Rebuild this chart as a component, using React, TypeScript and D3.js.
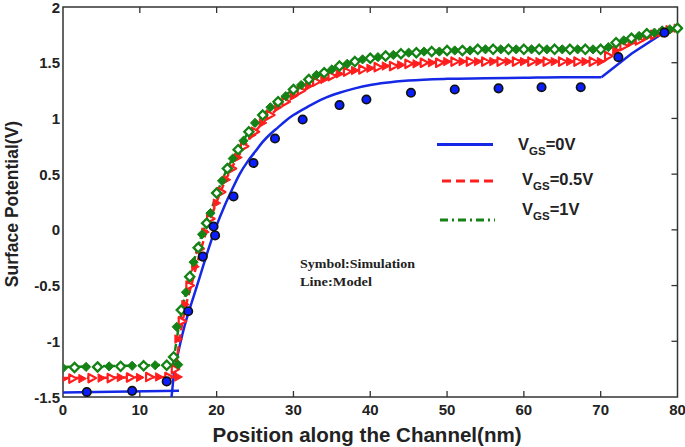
import React from "react";
import * as d3 from "d3";

const W = 685;
const H = 447;

const xTicks = [0, 10, 20, 30, 40, 50, 60, 70, 80];
const yTicks = [-1.5, -1, -0.5, 0, 0.5, 1, 1.5, 2];
const yTickLabels = ["-1.5", "-1", "-0.5", "0", "0.5", "1", "1.5", "2"];

// Simulation (symbols)
const blueSimX = [3.1, 9.0, 13.5, 16.3, 18.2, 19.6, 19.8, 22.2, 24.8, 27.6, 31.2, 36.0, 39.5, 45.3, 51.0, 56.7, 62.3, 67.4, 72.3, 78.3];
const blueSimY = [-1.455, -1.445, -1.36, -0.73, -0.24, 0.03, -0.05, 0.30, 0.60, 0.82, 0.99, 1.12, 1.17, 1.23, 1.26, 1.27, 1.28, 1.28, 1.55, 1.77];

const redSimX = [0, 1.25, 2.5, 3.75, 5, 6.25, 7.5, 8.75, 10, 11.25, 12.5, 13.75, 15,
  14.6, 15.0, 15.5, 15.9, 16.5, 17.2, 17.8, 18.5, 19.2, 20.0, 20.6, 21.3, 22.0, 22.8, 23.6, 24.6,
  25, 26, 27, 28, 29, 30, 31, 32, 33, 34, 35, 36, 37, 38, 39, 40, 41, 42, 43, 44, 45, 46, 47, 48, 49,
  50, 51, 52, 53, 54, 55, 56, 57, 58, 59, 60, 61, 62, 63, 64, 65, 66, 67, 68, 69, 70,
  71, 72, 73, 74, 75, 76, 77, 78, 79, 80];
const redSimY = [-1.34, -1.335, -1.335, -1.33, -1.33, -1.33, -1.325, -1.325, -1.325, -1.32, -1.32, -1.32, -1.32,
  -1.25, -0.98, -0.82, -0.67, -0.5, -0.33, -0.17, -0.02, 0.1, 0.24, 0.34, 0.45, 0.55, 0.65, 0.75, 0.85,
  0.88, 0.96, 1.03, 1.10, 1.15, 1.20, 1.25, 1.29, 1.33, 1.35, 1.38, 1.40, 1.42, 1.43, 1.44, 1.45, 1.46, 1.47, 1.47, 1.48, 1.49, 1.49, 1.50, 1.50, 1.50,
  1.51, 1.51, 1.51, 1.51, 1.51, 1.51, 1.51, 1.51, 1.51, 1.51, 1.51, 1.51, 1.51, 1.51, 1.51, 1.51, 1.51, 1.51, 1.51, 1.51, 1.51,
  1.56, 1.61, 1.65, 1.68, 1.70, 1.73, 1.75, 1.77, 1.79, 1.81];

const greenSimX = [0, 1.5, 3, 4.5, 6, 7.5, 9, 10.5, 12, 13.5, 15,
  14.4, 14.8, 15.4, 16.0, 16.5, 17.0, 17.6, 18.1, 18.7, 19.2, 20.0, 20.7, 21.4, 22.1, 22.8, 23.5, 24.2,
  25, 26, 27, 28, 29, 30, 31, 32, 33, 34, 35, 36, 37, 38, 39, 40, 41, 42, 43, 44, 45, 46, 47, 48, 49,
  50, 51, 52, 53, 54, 55, 56, 57, 58, 59, 60, 61, 62, 63, 64, 65, 66, 67, 68, 69, 70,
  71, 72, 73, 74, 75, 76, 77, 78, 79, 80];
const greenSimY = [-1.24, -1.235, -1.23, -1.23, -1.225, -1.225, -1.22, -1.22, -1.215, -1.215, -1.21,
  -1.14, -0.87, -0.72, -0.56, -0.42, -0.29, -0.16, -0.04, 0.06, 0.15, 0.33, 0.44, 0.55, 0.64, 0.72, 0.80, 0.88,
  0.96, 1.03, 1.10, 1.15, 1.20, 1.26, 1.30, 1.35, 1.39, 1.41, 1.44, 1.47, 1.49, 1.51, 1.53, 1.54, 1.55, 1.56, 1.57, 1.58, 1.59, 1.59, 1.60, 1.60, 1.60,
  1.61, 1.61, 1.61, 1.61, 1.62, 1.62, 1.62, 1.62, 1.62, 1.62, 1.62, 1.62, 1.62, 1.62, 1.62, 1.62, 1.62, 1.62, 1.62, 1.62, 1.62,
  1.64, 1.68, 1.70, 1.72, 1.74, 1.76, 1.77, 1.78, 1.80, 1.81];

// Model (lines)
const blueFlatX = [0, 15.1];
const blueFlatY = [-1.46, -1.445];
const blueModelX = [14.1, 14.5, 15, 15.5, 16.3, 17, 18, 19, 20, 21, 22, 23, 24, 25, 26, 27, 28, 29, 30, 32, 34, 36, 38, 40, 42, 45, 50, 55, 60, 65, 70.1, 74, 78.2, 80];
const blueModelY = [-1.52, -1.25, -1.1, -0.95, -0.75, -0.6, -0.38, -0.16, 0.04, 0.21, 0.36, 0.5, 0.61, 0.70, 0.79, 0.86, 0.92, 0.98, 1.03, 1.11, 1.18, 1.23, 1.27, 1.30, 1.32, 1.34, 1.355, 1.36, 1.365, 1.37, 1.37, 1.58, 1.77, 1.82];

const redModelX = [0, 15.2, 14.5, 15.5, 17, 18.5, 20, 21, 22, 23, 24, 25, 26, 27, 28, 30, 32, 34, 36, 38, 40, 45, 50, 60, 70.4, 72.2, 76, 80];
const redModelY = [-1.33, -1.32, -1.33, -0.85, -0.42, -0.05, 0.25, 0.42, 0.56, 0.68, 0.79, 0.88, 0.96, 1.03, 1.09, 1.19, 1.28, 1.35, 1.40, 1.43, 1.45, 1.49, 1.51, 1.52, 1.51, 1.61, 1.73, 1.81];

const greenModelX = [0, 15.2, 14.3, 15, 16, 17, 18, 19, 20, 21, 22, 23, 24, 25, 26, 28, 30, 32, 34, 36, 38, 40, 45, 50, 60, 70.4, 72.6, 76, 80];
const greenModelY = [-1.23, -1.21, -1.22, -0.9, -0.56, -0.29, -0.06, 0.12, 0.32, 0.49, 0.63, 0.75, 0.86, 0.95, 1.03, 1.16, 1.26, 1.35, 1.41, 1.47, 1.51, 1.54, 1.59, 1.61, 1.62, 1.62, 1.69, 1.76, 1.81];

const legendLabels = ["0V", "0.5V", "1V"];

const BLUE = "#1428e6";
const RED = "#ff1e1e";
const GREEN = "#148214";
const AXIS = "#333333";

const PL = 63, PR = 677.5, PT = 7, PB = 397;

export default function App() {
  const x = d3.scaleLinear().domain([0, 80]).range([PL, PR]);
  const y = d3.scaleLinear().domain([-1.5, 2]).range([PB, PT]);
  const zip = (xs: number[], ys: number[]) => xs.map((v, i) => [v, ys[i]] as [number, number]);
  const line = d3.line<[number, number]>().x(d => x(d[0])).y(d => y(d[1])).curve(d3.curveMonotoneX);
  const lineL = d3.line<[number, number]>().x(d => x(d[0])).y(d => y(d[1]));

  const redPts = zip(redModelX, redModelY);
  const greenPts = zip(greenModelX, greenModelY);
  const bluePts = zip(blueModelX, blueModelY);

  const font = "'Liberation Sans', Arial, sans-serif";
  const serif = "'Liberation Serif', 'Times New Roman', serif";

  const diamond = (cx: number, cy: number, r: number) =>
    `M${cx},${cy - r}L${cx + r},${cy}L${cx},${cy + r}L${cx - r},${cy}Z`;
  const triR = (cx: number, cy: number, r: number) =>
    `M${cx - r * 0.8},${cy - r}L${cx + r},${cy}L${cx - r * 0.8},${cy + r}Z`;

  return (
    <svg width={W} height={H} style={{ position: "absolute", left: 0, top: 0, background: "#fff" }}>
      <defs>
        <clipPath id="plot">
          <rect x={PL} y={PT - 6} width={PR - PL + 6} height={PB - PT + 6} />
        </clipPath>
      </defs>
      {/* frame */}
      <rect x={PL} y={PT} width={PR - PL} height={PB - PT} fill="none" stroke={AXIS} strokeWidth={1.5} />
      {xTicks.slice(1, -1).map(t => (
        <g key={"xt" + t}>
          <line x1={x(t)} x2={x(t)} y1={PB} y2={PB - 6} stroke={AXIS} strokeWidth={1.3} />
          <line x1={x(t)} x2={x(t)} y1={PT} y2={PT + 6} stroke={AXIS} strokeWidth={1.3} />
        </g>
      ))}
      {yTicks.slice(1, -1).map(t => (
        <line key={"yt" + t} x1={PR} x2={PR - 6} y1={y(t)} y2={y(t)} stroke={AXIS} strokeWidth={1.3} />
      ))}
      {xTicks.map(t => (
        <text key={"xl" + t} x={x(t)} y={415} textAnchor="middle" fontFamily={font} fontWeight="bold" fontSize={15} fill="#222">{t}</text>
      ))}
      {yTicks.map((t, i) => (
        <text key={"yl" + t} x={60} y={y(t) + 5.5} textAnchor="end" fontFamily={font} fontWeight="bold" fontSize={15} fill="#222">{yTickLabels[i]}</text>
      ))}
      <text x={367} y={442} textAnchor="middle" fontFamily={font} fontWeight="bold" fontSize={19.5} textLength={309} lengthAdjust="spacingAndGlyphs" fill="#222">Position along the Channel(nm)</text>
      <text transform="translate(18,204) rotate(-90)" textAnchor="middle" fontFamily={font} fontWeight="bold" fontSize={17.5} fill="#222">Surface Potential(V)</text>

      <g clipPath="url(#plot)">
        {/* model lines */}
        <path d={lineL(zip(blueFlatX, blueFlatY)) || ""} fill="none" stroke={BLUE} strokeWidth={2.5} />
        <path d={lineL(bluePts.slice(0, 3)) || ""} fill="none" stroke={BLUE} strokeWidth={2.5} />
        <path d={line(bluePts.slice(2, 31)) || ""} fill="none" stroke={BLUE} strokeWidth={2.5} />
        <path d={lineL(bluePts.slice(30)) || ""} fill="none" stroke={BLUE} strokeWidth={2.5} />
        <path d={lineL(redPts.slice(0, 2)) || ""} fill="none" stroke={RED} strokeWidth={2.5} strokeDasharray="8,4" />
        <path d={line(redPts.slice(2, 25)) || ""} fill="none" stroke={RED} strokeWidth={2.5} strokeDasharray="8,4" />
        <path d={lineL(redPts.slice(24)) || ""} fill="none" stroke={RED} strokeWidth={2.5} strokeDasharray="8,4" />
        <path d={lineL(greenPts.slice(0, 2)) || ""} fill="none" stroke={GREEN} strokeWidth={2.5} strokeDasharray="7,3,2,3" />
        <path d={line(greenPts.slice(2, 26)) || ""} fill="none" stroke={GREEN} strokeWidth={2.5} strokeDasharray="7,3,2,3" />
        <path d={lineL(greenPts.slice(25)) || ""} fill="none" stroke={GREEN} strokeWidth={2.5} strokeDasharray="7,3,2,3" />

        {/* simulation symbols */}
        {redSimX.map((v, i) => (
          <path key={"r" + i} d={triR(x(v), y(redSimY[i]), 4.2)}
            fill={i % 2 === 0 ? RED : "#fff"} stroke={RED} strokeWidth={i % 2 === 0 ? 1 : 2.2} strokeLinejoin="round" />
        ))}
        {greenSimX.map((v, i) => (
          <path key={"g" + i} d={diamond(x(v), y(greenSimY[i]), 4.6)}
            fill={i % 2 === 0 ? GREEN : "#fff"} stroke={GREEN} strokeWidth={i % 2 === 0 ? 1 : 2.3} />
        ))}
        {blueSimX.map((v, i) => (
          <circle key={"b" + i} cx={x(v)} cy={y(blueSimY[i])} r={4.2} fill="#0a1eff" stroke="#111" strokeWidth={1.7} />
        ))}
      </g>

      {/* legend */}
      <line x1={437} x2={493} y1={144.5} y2={144.5} stroke={BLUE} strokeWidth={3} />
      <line x1={442} x2={493} y1={181} y2={181} stroke={RED} strokeWidth={3} strokeDasharray="9,5" />
      <line x1={440} x2={495} y1={220} y2={220} stroke={GREEN} strokeWidth={3} strokeDasharray="8,4,2,4" />
      {legendLabels.map((lab, i) => (
        <text key={"lg" + i} x={i === 0 ? 518 : 522} y={[150, 185, 215][i]} fontFamily={font} fontWeight="bold" fontSize={16.5} fill="#222">
          V<tspan fontSize={11.5} dy={5}>GS</tspan><tspan dy={-5}>={lab}</tspan>
        </text>
      ))}

      <text x={300} y={268} fontFamily={serif} fontWeight="bold" fontSize={12} textLength={115} lengthAdjust="spacingAndGlyphs" fill="#222">Symbol:Simulation</text>
      <text x={300} y={286} fontFamily={serif} fontWeight="bold" fontSize={12} textLength={72} lengthAdjust="spacingAndGlyphs" fill="#222">Line:Model</text>
    </svg>
  );
}
